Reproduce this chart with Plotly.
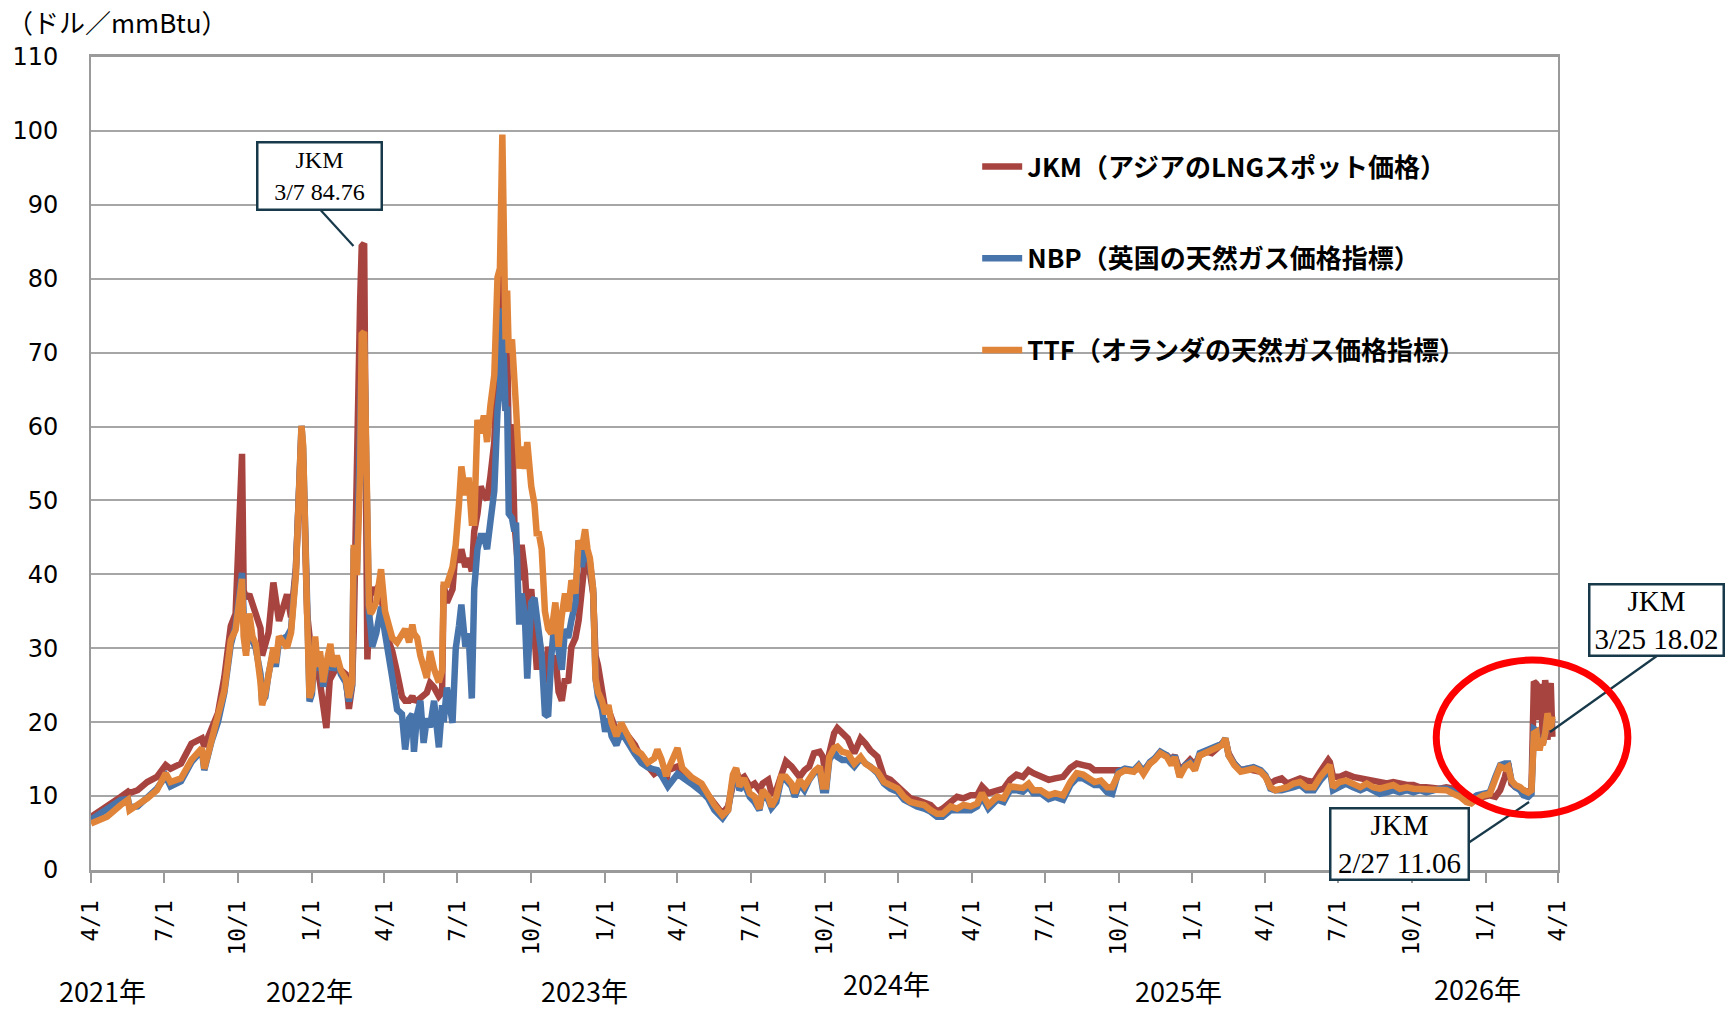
import plotly.graph_objects as go

# ---------------- DATA ----------------
dates = [
    # 2021
    "2021-04-01", "2021-04-21", "2021-05-08", "2021-05-17", "2021-05-19", "2021-05-29",
    "2021-06-10", "2021-06-22", "2021-07-03", "2021-07-09", "2021-07-22", "2021-08-04",
    "2021-08-17", "2021-08-20", "2021-08-29", "2021-09-06", "2021-09-14", "2021-09-22",
    "2021-09-28", "2021-10-06", "2021-10-08", "2021-10-11", "2021-10-15", "2021-10-19",
    "2021-10-23", "2021-10-29", "2021-10-31", "2021-11-04", "2021-11-08", "2021-11-14",
    "2021-11-17", "2021-11-21", "2021-12-01", "2021-12-06", "2021-12-12", "2021-12-15",
    "2021-12-19", "2021-12-21", "2021-12-24", "2021-12-26", "2021-12-29",
    # 2022 H1
    "2022-01-01", "2022-01-05", "2022-01-08", "2022-01-11", "2022-01-15", "2022-01-19",
    "2022-01-24", "2022-01-27", "2022-02-01", "2022-02-06", "2022-02-12", "2022-02-16",
    "2022-02-20", "2022-02-22", "2022-02-26", "2022-03-02", "2022-03-04", "2022-03-07",
    "2022-03-09", "2022-03-11", "2022-03-13", "2022-03-15", "2022-03-17", "2022-03-22",
    "2022-03-28", "2022-04-02", "2022-04-07", "2022-04-11", "2022-04-17", "2022-04-23",
    "2022-04-27", "2022-05-02", "2022-05-06", "2022-05-08", "2022-05-12", "2022-05-16",
    "2022-05-20", "2022-05-24", "2022-05-28", "2022-06-02", "2022-06-08", "2022-06-12",
    "2022-06-14", "2022-06-18", "2022-06-25", "2022-06-29",
    # 2022 H2
    "2022-07-03", "2022-07-06", "2022-07-11", "2022-07-15", "2022-07-19", "2022-07-22",
    "2022-07-26", "2022-07-30", "2022-08-03", "2022-08-07", "2022-08-11", "2022-08-16",
    "2022-08-20", "2022-08-23", "2022-08-26", "2022-08-30", "2022-09-01", "2022-09-03",
    "2022-09-07", "2022-09-10", "2022-09-12", "2022-09-16", "2022-09-19", "2022-09-23",
    "2022-09-26", "2022-10-01", "2022-10-05", "2022-10-08", "2022-10-10", "2022-10-14",
    "2022-10-18", "2022-10-22", "2022-10-26", "2022-10-31", "2022-11-04", "2022-11-08",
    "2022-11-12", "2022-11-16", "2022-11-20", "2022-11-25", "2022-11-29", "2022-12-03",
    "2022-12-07", "2022-12-10", "2022-12-13", "2022-12-17", "2022-12-20", "2022-12-23",
    "2022-12-28",
    # 2023
    "2023-01-01", "2023-01-05", "2023-01-09", "2023-01-15", "2023-01-21", "2023-01-30",
    "2023-02-07", "2023-02-15", "2023-02-23", "2023-03-03", "2023-03-07", "2023-03-12",
    "2023-03-18", "2023-03-20", "2023-04-01", "2023-04-07", "2023-04-18", "2023-05-01",
    "2023-05-09", "2023-05-17", "2023-05-27", "2023-06-03", "2023-06-09", "2023-06-13",
    "2023-06-17", "2023-06-23", "2023-06-30", "2023-07-06", "2023-07-12", "2023-07-16",
    "2023-07-23", "2023-07-27", "2023-08-02", "2023-08-08", "2023-08-14", "2023-08-21",
    "2023-08-25", "2023-08-31", "2023-09-06", "2023-09-12", "2023-09-18", "2023-09-25",
    "2023-09-29", "2023-10-03", "2023-10-07", "2023-10-13", "2023-10-17", "2023-10-23",
    "2023-10-30", "2023-11-07", "2023-11-15", "2023-11-21", "2023-11-27", "2023-12-06",
    "2023-12-14", "2023-12-22", "2023-12-31",
    # 2024
    "2024-01-08", "2024-01-16", "2024-01-24", "2024-02-02", "2024-02-10", "2024-02-18",
    "2024-02-25", "2024-03-06", "2024-03-14", "2024-03-22", "2024-03-31", "2024-04-08",
    "2024-04-14", "2024-04-22", "2024-05-03", "2024-05-11", "2024-05-19", "2024-05-27",
    "2024-06-04", "2024-06-11", "2024-06-17", "2024-06-26", "2024-07-06", "2024-07-14",
    "2024-07-24", "2024-08-02", "2024-08-10", "2024-08-18", "2024-08-26", "2024-09-01",
    "2024-09-09", "2024-09-17", "2024-09-23", "2024-10-01", "2024-10-09", "2024-10-20",
    "2024-10-26", "2024-11-01", "2024-11-09", "2024-11-15", "2024-11-22", "2024-11-30",
    "2024-12-06", "2024-12-10", "2024-12-16", "2024-12-23", "2024-12-29",
    # 2025
    "2025-01-04", "2025-01-10", "2025-01-19", "2025-01-25", "2025-02-01", "2025-02-07",
    "2025-02-11", "2025-02-15", "2025-02-22", "2025-03-02", "2025-03-10", "2025-03-18",
    "2025-03-27", "2025-04-02", "2025-04-08", "2025-04-14", "2025-04-22", "2025-04-29",
    "2025-05-07", "2025-05-15", "2025-05-23", "2025-06-01", "2025-06-09", "2025-06-19",
    "2025-06-21", "2025-06-25", "2025-07-03", "2025-07-11", "2025-07-20", "2025-07-29",
    "2025-08-06", "2025-08-14", "2025-08-22", "2025-08-31", "2025-09-08", "2025-09-16",
    "2025-09-25", "2025-10-03", "2025-10-11", "2025-10-19", "2025-10-28", "2025-11-05",
    "2025-11-13", "2025-11-22", "2025-11-30", "2025-12-08", "2025-12-14", "2025-12-21",
    "2025-12-29",
    # 2026
    "2026-01-06", "2026-01-13", "2026-01-19", "2026-01-25", "2026-01-29", "2026-02-02",
    "2026-02-07", "2026-02-13", "2026-02-17", "2026-02-23", "2026-02-27", "2026-03-02",
    "2026-03-05", "2026-03-06", "2026-03-09", "2026-03-11", "2026-03-13", "2026-03-16",
    "2026-03-17", "2026-03-19", "2026-03-20", "2026-03-23", "2026-03-25",
]

jkm = [
    # 2021
    7.2, 8.8, 9.9, 10.6, 10.4, 10.8, 11.9, 12.6, 14.2, 13.7, 14.4, 17.1,
    17.8, 16.7, 19.4, 21.2, 26.1, 33.0, 34.7, 56.3, 37.8, 36.8, 37.3, 35.8,
    34.2, 32.7, 29.0, 30.6, 32.1, 38.9, 36.8, 33.7, 37.3, 34.2, 40.9, 47.0,
    59.0, 55.0, 39.9, 34.7, 31.6,
    # 2022 H1
    28.0, 27.0, 27.0, 25.4, 21.8, 19.2, 27.0, 26.5, 27.5, 27.0, 26.5, 21.8,
    24.9, 32.1, 59.6, 77.0, 84.4, 84.76, 55.4, 28.5, 33.7, 38.3, 37.4, 38.0,
    37.4, 33.2, 30.8, 29.6, 26.7, 23.5, 22.9, 22.9, 23.5, 23.0, 22.9, 23.2,
    23.5, 24.0, 25.3, 24.7, 23.5, 24.0, 38.6, 36.2, 38.0, 43.4,
    # 2022 H2
    41.6, 43.4, 41.0, 42.2, 40.4, 45.8, 48.2, 51.9, 50.7, 50.1, 53.1, 57.9,
    70.0, 76.0, 82.0, 62.1, 71.2, 57.3, 60.3, 47.0, 44.6, 39.2, 44.0, 40.4,
    35.0, 38.0, 32.0, 27.1, 32.0, 29.0, 25.3, 30.2, 27.7, 29.0, 24.1, 22.9,
    25.9, 25.3, 30.2, 31.4, 33.8, 38.0, 42.2, 41.6, 40.4, 37.4, 29.0, 27.7,
    24.7,
    # 2023
    21.7, 21.7, 20.5, 18.7, 19.3, 18.1, 16.9, 15.1, 13.9, 13.0, 13.3, 13.0,
    12.0, 13.5, 14.0, 12.9, 12.2, 11.3, 10.1, 9.0, 7.6, 8.6, 12.2, 13.5,
    12.2, 12.6, 11.3, 11.7, 10.8, 11.7, 12.2, 10.4, 10.8, 13.1, 14.7, 14.0,
    13.5, 12.6, 13.5, 14.0, 15.8, 16.0, 15.3, 12.2, 15.8, 18.5, 19.2, 18.5,
    17.8, 15.8, 17.8, 17.1, 16.2, 15.3, 12.6, 12.2, 11.3,
    # 2024
    10.4, 9.7, 9.5, 9.2, 8.8, 7.9, 8.3, 9.2, 9.9, 9.7, 10.1, 10.1,
    11.3, 10.4, 10.8, 11.0, 12.2, 12.9, 12.6, 13.5, 13.1, 12.6, 12.2, 12.4,
    12.6, 13.8, 14.4, 14.2, 14.0, 13.5, 13.5, 13.3, 13.5, 13.3, 13.5, 13.5,
    13.7, 13.5, 14.4, 15.1, 15.8, 15.5, 14.9, 15.5, 13.5, 14.2, 14.9,
    # 2025
    14.2, 15.5, 16.0, 15.8, 16.5, 17.1, 17.6, 15.8, 14.4, 13.5, 13.7, 13.5,
    13.3, 12.6, 11.7, 12.1, 12.4, 11.7, 12.1, 12.4, 12.1, 11.9, 13.3, 14.9,
    14.6, 12.6, 12.6, 13.0, 12.6, 12.4, 12.4, 12.1, 11.9, 11.7, 11.9, 11.7,
    11.5, 11.5, 11.2, 11.2, 11.0, 11.0, 11.2, 11.0, 10.3, 9.9, 9.6, 9.4,
    9.9,
    # 2026
    10.1, 9.9, 10.8, 12.6, 14.4, 11.7, 11.2, 11.0, 10.8, 10.5, 11.06, 25.5,
    25.2, 25.0, 20.3, 25.2, 17.3, 25.7, 24.8, 17.6, 23.0, 25.3, 18.02,
]

nbp = [
    # 2021
    6.8, 8.3, 9.5, 9.6, 8.5, 8.6, 9.7, 11.0, 12.7, 11.3, 12.0, 14.6,
    16.2, 13.5, 17.4, 20.0, 24.0, 30.5, 33.0, 40.2, 34.7, 29.6, 33.5, 31.0,
    30.0, 26.5, 22.8, 23.4, 26.5, 29.6, 27.5, 31.0, 31.6, 32.6, 40.4, 48.2,
    60.1, 57.0, 38.5, 36.3, 22.8,
    # 2022 H1
    23.8, 30.8, 27.0, 29.0, 24.8, 27.5, 30.0, 27.0, 28.5, 26.5, 25.4, 22.8,
    25.0, 43.5, 40.0, 60.0, 70.0, 71.5, 57.0, 40.4, 34.7, 33.0, 30.2, 32.0,
    35.6, 32.0, 29.0, 26.0, 21.7, 21.1, 16.3, 20.5, 21.1, 16.0, 21.1, 22.9,
    17.2, 20.5, 19.3, 22.9, 16.6, 22.3, 20.0, 24.7, 19.9, 30.0,
    # 2022 H2
    33.0, 35.9, 30.2, 32.0, 23.2, 38.0, 43.4, 45.2, 45.2, 43.4, 47.0, 51.3,
    62.1, 65.1, 76.0, 62.1, 62.7, 48.2, 47.6, 45.8, 47.0, 33.2, 37.4, 34.4,
    25.9, 36.2, 36.8, 33.8, 33.2, 29.0, 21.1, 20.8, 29.0, 35.0, 29.6, 27.1,
    32.6, 31.4, 33.8, 36.2, 44.6, 41.0, 44.0, 42.8, 41.6, 38.0, 25.9, 23.5,
    21.7,
    # 2023
    18.7, 20.5, 18.1, 16.9, 18.7, 16.9, 15.7, 14.5, 13.9, 13.6, 13.5, 12.8,
    11.8, 11.3, 13.0, 12.6, 11.7, 10.6, 9.7, 8.1, 7.0, 8.1, 12.2, 13.5,
    10.8, 11.7, 9.9, 9.2, 8.1, 10.4, 9.5, 8.4, 9.2, 12.2, 12.2, 11.3,
    9.9, 11.7, 10.8, 12.2, 13.1, 13.5, 10.8, 10.8, 14.9, 16.0, 15.3, 14.9,
    14.9, 14.0, 15.1, 14.4, 14.0, 13.1, 11.7, 11.0, 10.6,
    # 2024
    9.5, 9.0, 8.6, 8.3, 7.9, 7.2, 7.2, 8.1, 8.1, 8.3, 8.1, 8.6,
    9.9, 8.3, 9.5, 9.2, 10.8, 10.8, 10.6, 11.3, 10.4, 10.4, 9.6, 9.9,
    9.5, 11.5, 12.4, 12.4, 11.9, 11.5, 11.5, 10.5, 10.3, 13.3, 13.7, 13.5,
    14.2, 13.3, 14.6, 15.1, 16.0, 15.5, 14.4, 15.5, 12.8, 14.2, 14.6,
    # 2025
    13.7, 15.8, 16.2, 16.5, 16.7, 17.1, 17.8, 15.5, 14.4, 13.5, 13.7, 13.9,
    13.5, 12.8, 11.0, 10.8, 10.8, 10.9, 11.2, 11.5, 10.8, 10.8, 12.1, 13.3,
    13.7, 10.8, 11.2, 11.7, 11.2, 10.8, 11.2, 10.8, 10.3, 10.5, 10.8, 10.5,
    10.8, 10.5, 10.8, 10.5, 10.8, 11.0, 11.0, 10.5, 10.3, 9.9, 9.6, 10.1,
    10.3,
    # 2026
    10.5, 12.6, 14.2, 14.4, 14.4, 12.1, 11.2, 10.8, 10.1, 9.9, 10.3, 19.1,
    18.9, 18.0, 16.7, 17.3, 17.0, 18.5, 19.2, 20.8, 20.5, 19.0, 20.5,
]

ttf = [
    # 2021
    6.3, 7.2, 8.8, 9.5, 8.1, 8.8, 9.7, 10.8, 13.1, 11.9, 12.4, 14.9,
    16.5, 13.7, 17.6, 20.3, 24.3, 31.1, 32.5, 39.4, 31.6, 29.0, 34.7, 31.6,
    30.6, 25.4, 22.3, 23.9, 27.0, 30.1, 28.0, 31.6, 30.1, 32.1, 39.9, 47.1,
    60.1, 57.5, 38.9, 34.7, 23.3,
    # 2022 H1
    24.4, 31.6, 27.5, 29.6, 25.4, 28.0, 30.6, 27.5, 29.0, 27.0, 25.9, 23.3,
    25.4, 44.0, 39.9, 53.9, 72.5, 72.8, 55.4, 42.0, 35.8, 34.7, 35.0, 36.2,
    40.7, 35.0, 32.6, 31.4, 30.8, 32.0, 32.6, 30.8, 33.2, 32.0, 31.4, 29.0,
    27.8, 26.0, 29.6, 27.2, 25.4, 27.0, 38.6, 38.6, 41.0, 44.0,
    # 2022 H2
    49.5, 54.6, 50.7, 53.1, 47.0, 47.0, 60.9, 59.1, 61.5, 57.9, 62.7, 67.0,
    80.2, 81.4, 99.5, 71.8, 78.4, 70.0, 71.8, 63.9, 62.7, 54.3, 57.3, 54.3,
    57.9, 51.9, 49.5, 45.2, 45.8, 43.4, 35.0, 32.6, 32.0, 36.2, 30.2, 34.4,
    37.4, 35.0, 39.2, 37.4, 44.6, 43.4, 46.1, 43.4, 42.2, 38.0, 25.9, 24.1,
    22.9,
    # 2023
    21.1, 22.3, 19.9, 18.1, 19.9, 18.1, 16.3, 15.7, 14.5, 15.1, 16.3, 15.0,
    12.7, 13.5, 16.5, 13.8, 12.6, 11.7, 10.1, 8.8, 7.4, 8.1, 12.9, 13.8,
    11.3, 12.4, 10.4, 9.9, 8.3, 10.8, 9.9, 8.6, 9.9, 12.6, 12.6, 11.7,
    10.4, 12.2, 11.3, 12.4, 13.3, 14.0, 11.3, 11.3, 15.3, 16.5, 16.7, 16.0,
    15.8, 14.4, 15.3, 14.4, 14.0, 13.3, 11.9, 11.5, 11.0,
    # 2024
    9.9, 9.2, 9.0, 8.8, 8.1, 7.6, 7.6, 8.6, 8.3, 8.8, 8.6, 9.0,
    10.4, 8.8, 9.9, 9.7, 11.3, 11.3, 11.1, 11.7, 10.8, 10.8, 10.1, 10.4,
    10.1, 11.9, 13.1, 12.9, 12.4, 11.9, 12.1, 11.2, 11.2, 13.0, 13.5, 13.3,
    14.0, 13.0, 14.4, 14.9, 15.8, 15.3, 14.2, 15.3, 12.6, 14.0, 14.4,
    # 2025
    13.5, 15.5, 16.0, 16.2, 16.5, 16.9, 17.8, 15.5, 14.2, 13.3, 13.5, 13.7,
    13.3, 12.6, 11.2, 10.8, 11.0, 11.2, 11.7, 11.9, 11.2, 11.2, 12.6, 13.7,
    14.2, 11.2, 11.9, 12.1, 11.7, 11.2, 11.7, 11.2, 11.0, 11.2, 11.5, 11.0,
    11.2, 11.0, 11.0, 10.8, 10.8, 11.0, 10.8, 10.3, 9.9, 9.2, 9.0, 9.6,
    10.1,
    # 2026
    10.3, 12.1, 14.0, 13.7, 14.0, 12.1, 11.5, 11.2, 10.8, 10.5, 10.8, 18.5,
    18.7, 18.0, 16.2, 17.3, 16.9, 18.5, 19.4, 21.2, 20.7, 19.0, 20.8,
]

series_names = [
    "JKM（アジアのLNGスポット価格）",
    "NBP（英国の天然ガス価格指標）",
    "TTF（オランダの天然ガス価格指標）",
]

tick_dates = [
    "2021-04-01", "2021-07-01", "2021-10-01", "2022-01-01", "2022-04-01", "2022-07-01",
    "2022-10-01", "2023-01-01", "2023-04-01", "2023-07-01", "2023-10-01", "2024-01-01",
    "2024-04-01", "2024-07-01", "2024-10-01", "2025-01-01", "2025-04-01", "2025-07-01",
    "2025-10-01", "2026-01-01", "2026-04-01",
]
tick_texts = ["4/1", "7/1", "10/1", "1/1"] * 5 + ["4/1"]

year_labels = ["2021年", "2022年", "2023年", "2024年", "2025年", "2026年"]

callout_texts = ["JKM<br>3/7 84.76", "JKM<br>3/25 18.02", "JKM<br>2/27 11.06"]

# ---------------- LAYOUT ----------------
W, H = 1726, 1011
L, R, T, B = 88, 168, 57, 141
PW = W - L - R
PH = H - T - B


def fx(px):
    return (px - L) / PW


def fy(py):
    return (T + PH - py) / PH


colors = ["#A8443F", "#4874AC", "#E0843A"]
grey = "#9a9a9a"

fig = go.Figure()
for name, vals, col in zip(series_names, [jkm, nbp, ttf], colors):
    fig.add_trace(go.Scatter(
        x=dates, y=vals, mode="lines", name=name, legendgroup=name,
        line=dict(color=col, width=6.5),
    ))

# year labels positions (pixel centre x, centre y)
year_pos = [(100, 990), (307, 990), (583, 990), (885, 984), (1178, 990), (1477, 988)]

annotations = []
for lab, (px, py) in zip(year_labels, year_pos):
    annotations.append(dict(
        text=lab, xref="paper", yref="paper", x=fx(px), y=fy(py),
        xanchor="center", yanchor="middle", showarrow=False,
        font=dict(family="Noto Sans CJK JP", size=27, color="black"),
    ))

annotations.append(dict(
    text="（ドル／mmBtu）", xref="paper", yref="paper", x=fx(2), y=fy(22),
    xanchor="left", yanchor="middle", showarrow=False,
    font=dict(family="Noto Sans CJK JP", size=26, color="black"),
))

box_color = "#17394a"
# (centre x, centre y, width, height, font size)
box_geo = [(317, 175.5, 122, 65, 24), (1657, 619.5, 132, 69, 29), (1399, 843.5, 136, 69, 29)]
for txt, (cx, cy, bw, bh, fs) in zip(callout_texts, box_geo):
    annotations.append(dict(
        text=txt, xref="paper", yref="paper", x=fx(cx), y=fy(cy),
        xanchor="center", yanchor="middle", showarrow=False,
        width=bw, height=bh, align="center", valign="middle",
        bgcolor="white", bordercolor=box_color, borderwidth=2.5, borderpad=0,
        font=dict(family="Liberation Serif", size=fs, color="black"),
    ))

shapes = []
# white area behind legend (interrupts the gridlines)
shapes.append(dict(
    type="rect", xref="paper", yref="paper", layer="between",
    x0=fx(919), x1=fx(1508), y0=fy(380), y1=fy(105),
    fillcolor="white", line=dict(width=0),
))
# callout connectors
for (x0, y0, x1, y1) in [(318, 210, 351, 246), (1657, 656, 1550, 732), (1468, 843, 1529, 802)]:
    shapes.append(dict(
        type="line", xref="paper", yref="paper",
        x0=fx(x0), y0=fy(y0), x1=fx(x1), y1=fy(y1),
        line=dict(color=box_color, width=2.2),
    ))
# red ellipse
shapes.append(dict(
    type="circle", xref="paper", yref="paper",
    x0=fx(1436), x1=fx(1628), y0=fy(815), y1=fy(660),
    line=dict(color="#ff0000", width=7), fillcolor="rgba(0,0,0,0)",
))

fig.update_layout(
    width=W, height=H,
    margin=dict(l=L, r=R, t=T, b=B, pad=0),
    paper_bgcolor="white", plot_bgcolor="white",
    showlegend=True,
    legend=dict(
        x=fx(976), y=fy(143), xanchor="left", yanchor="top",
        bgcolor="rgba(0,0,0,0)", borderwidth=0,
        font=dict(family="Noto Sans CJK JP", size=26, color="black", weight="bold"),
        tracegroupgap=55, traceorder="grouped", itemwidth=40,
    ),
    annotations=annotations,
    shapes=shapes,
    xaxis=dict(
        type="date", range=["2021-04-01", "2026-04-01"],
        tickmode="array", tickvals=tick_dates, ticktext=tick_texts,
        tickangle=-90, ticks="outside", ticklen=10, tickwidth=2, tickcolor=grey,
        tickfont=dict(family="DejaVu Sans Mono", size=23, color="black"),
        ticklabelstandoff=8,
        showgrid=False, zeroline=False,
        showline=True, linecolor=grey, linewidth=3, mirror=True,
    ),
    yaxis=dict(
        range=[0, 110], tickmode="linear", tick0=0, dtick=10,
        showgrid=True, gridcolor="#a6a6a6", gridwidth=2,
        zeroline=False, ticks="",
        tickfont=dict(family="DejaVu Sans", size=24, color="black"),
        ticklabelstandoff=26,
        showline=True, linecolor=grey, linewidth=2, mirror=True,
    ),
)

fig.write_html("out.html")
